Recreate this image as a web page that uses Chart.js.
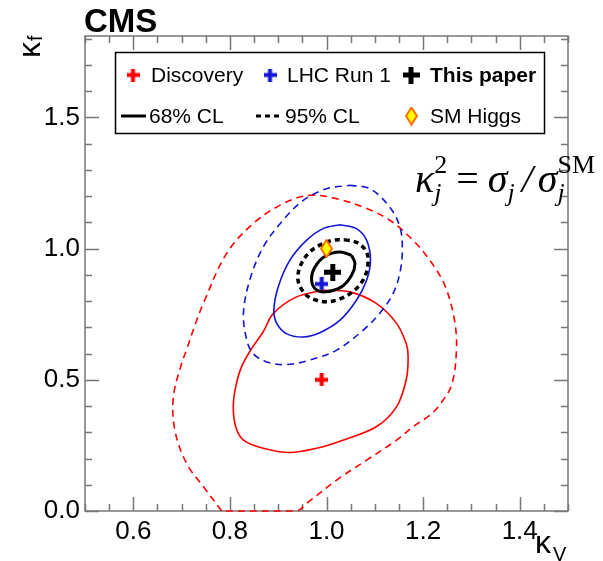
<!DOCTYPE html>
<html>
<head>
<meta charset="utf-8">
<script src="https://cdn.jsdelivr.net/npm/chart.js@4.4.0/dist/chart.umd.min.js"></script>
<style>
  body { margin: 0; background: #fff; }
</style>
</head>
<body>
<canvas id="grafico" width="603" height="561"></canvas>
<script>
// eixos: kappa_V (x) e kappa_f (y)
const xTicks = [0.6, 0.8, 1.0, 1.2, 1.4];
const yTicks = [0.0, 0.5, 1.0, 1.5];

// melhores ajustes
const discovery = [[0.99, 0.50]];
const lhcRun1 = [[0.99, 0.865]];
const thisPaper = [[1.013, 0.91]];
const smHiggs = [[1.0, 1.0]];

// contornos 68% e 95% CL
const discovery68 = [
  [0.993, 0.841], [1.048, 0.835], [1.103, 0.791], [1.145, 0.715], [1.165, 0.638],
  [1.169, 0.587], [1.165, 0.499], [1.145, 0.397], [1.103, 0.321], [1.034, 0.270],
  [0.979, 0.239], [0.924, 0.223], [0.869, 0.239], [0.828, 0.270], [0.812, 0.321],
  [0.807, 0.397], [0.812, 0.473], [0.824, 0.549], [0.845, 0.619], [0.869, 0.683],
  [0.890, 0.753], [0.938, 0.816]
];
const discovery95 = [
  [0.783, 0.0], [0.745, 0.093], [0.710, 0.182], [0.686, 0.308], [0.683, 0.435],
  [0.700, 0.562], [0.710, 0.613], [0.724, 0.689], [0.745, 0.791], [0.793, 0.981],
  [0.848, 1.095], [0.910, 1.171], [0.965, 1.203], [1.021, 1.190], [1.076, 1.158],
  [1.131, 1.108], [1.179, 1.032], [1.214, 0.955], [1.245, 0.860], [1.265, 0.727],
  [1.269, 0.613], [1.259, 0.480], [1.234, 0.404], [1.214, 0.365], [1.179, 0.321],
  [1.145, 0.270], [1.083, 0.194], [1.021, 0.118], [0.959, 0.029], [0.938, 0.0]
];
const run1_68 = [
  [1.028, 1.091], [1.062, 1.076], [1.083, 1.032], [1.091, 0.955], [1.083, 0.879],
  [1.062, 0.803], [1.028, 0.727], [0.986, 0.679], [0.952, 0.663], [0.917, 0.676],
  [0.897, 0.715], [0.891, 0.765], [0.900, 0.854], [0.924, 0.955], [0.959, 1.032],
  [0.993, 1.076]
];
const run1_95 = [
  [1.048, 1.241], [1.090, 1.228], [1.131, 1.158], [1.152, 1.082], [1.157, 1.006],
  [1.153, 0.917], [1.138, 0.829], [1.110, 0.753], [1.076, 0.689], [1.021, 0.613],
  [0.965, 0.575], [0.917, 0.558], [0.876, 0.568], [0.848, 0.600], [0.835, 0.651],
  [0.828, 0.753], [0.841, 0.879], [0.869, 1.006], [0.910, 1.108], [0.952, 1.184],
  [1.000, 1.228]
];
const paper68 = [
  [1.052, 0.974], [1.059, 0.943], [1.052, 0.898], [1.031, 0.854], [0.997, 0.835],
  [0.976, 0.848], [0.969, 0.886], [0.976, 0.930], [0.997, 0.971], [1.028, 0.987]
];
const paper95 = [
  [1.038, 1.034], [1.065, 1.021], [1.083, 0.987], [1.086, 0.943], [1.079, 0.892],
  [1.062, 0.848], [1.034, 0.813], [1.000, 0.797], [0.969, 0.810], [0.952, 0.835],
  [0.941, 0.879], [0.945, 0.930], [0.962, 0.981], [0.986, 1.013], [1.014, 1.032]
];

const legendaLinha1 = ['Discovery', 'LHC Run 1', 'This paper'];
const legendaLinha2 = ['68% CL', '95% CL', 'SM Higgs'];

const VERMELHO = '#ff0000';
const AZUL = '#1414d4';
const FONTE = "'Liberation Sans', Arial, Helvetica, sans-serif";
const SERIFA = "'Liberation Serif', 'Times New Roman', serif";

const pontos = arr => arr.map(p => ({ x: p[0], y: p[1] }));
const fechado = arr => pontos(arr.concat([arr[0]]));

// marcador em cruz cheia
function cruz(cor, tam, esp) {
  const c = document.createElement('canvas');
  c.width = tam; c.height = tam;
  const g = c.getContext('2d');
  g.fillStyle = cor;
  const m = (tam - esp) / 2;
  g.fillRect(m, 0, esp, tam);
  g.fillRect(0, m, tam, esp);
  return c;
}

// losango amarelo com borda laranja
function losango() {
  const c = document.createElement('canvas');
  c.width = 13; c.height = 19;
  const g = c.getContext('2d');
  g.beginPath();
  g.moveTo(6.5, 1); g.lineTo(12, 9.5); g.lineTo(6.5, 18); g.lineTo(1, 9.5);
  g.closePath();
  g.fillStyle = '#ffff00';
  g.fill();
  g.strokeStyle = '#ff6a00';
  g.lineWidth = 2;
  g.stroke();
  return c;
}

const marcaDiscovery = cruz(VERMELHO, 13, 4);
const marcaRun1 = cruz(AZUL, 13, 4);
const marcaPaper = cruz('#000', 17, 5);
const marcaSM = losango();

function contorno(dados, cor, largura, tracejado, ordem) {
  return {
    data: fechado(dados),
    showLine: true,
    borderColor: cor,
    borderWidth: largura,
    borderDash: tracejado,
    pointRadius: 0,
    tension: 0.35,
    fill: false,
    clip: 4,
    order: ordem
  };
}

function marcador(dados, img, ordem) {
  return {
    data: pontos(dados),
    pointStyle: img,
    pointRadius: 8,
    showLine: false,
    clip: false,
    order: ordem
  };
}

// moldura estilo ROOT com ticks para dentro
const moldura = {
  id: 'moldura',
  beforeDatasetsDraw(chart) {
    const { ctx, chartArea: a, scales: { x, y } } = chart;
    ctx.save();
    ctx.strokeStyle = '#777';
    ctx.lineWidth = 1.5;
    ctx.strokeRect(a.left, a.top, a.right - a.left, a.bottom - a.top);
    ctx.beginPath();
    for (let i = 0; i <= 20; i++) {
      const v = 0.5 + i * 0.05;
      const px = Math.round(x.getPixelForValue(v)) + 0.5;
      const len = xTicks.some(t => Math.abs(t - v) < 1e-6) ? 14 : 7;
      ctx.moveTo(px, a.bottom); ctx.lineTo(px, a.bottom - len);
      ctx.moveTo(px, a.top); ctx.lineTo(px, a.top + len);
    }
    for (let i = 0; i <= 18; i++) {
      const v = i * 0.1;
      if (v > y.max) break;
      const py = Math.round(y.getPixelForValue(v)) + 0.5;
      const len = yTicks.some(t => Math.abs(t - v) < 1e-6) ? 14 : 7;
      ctx.moveTo(a.left, py); ctx.lineTo(a.left + len, py);
      ctx.moveTo(a.right, py); ctx.lineTo(a.right - len, py);
    }
    ctx.stroke();
    ctx.restore();
  },
  afterDraw(chart) {
    const { ctx, chartArea: a } = chart;
    ctx.save();
    ctx.fillStyle = '#000';

    // CMS
    ctx.font = 'bold 33px ' + FONTE;
    ctx.textBaseline = 'alphabetic';
    ctx.fillText('CMS', a.left - 1, 32);

    // titulo do eixo x
    ctx.font = '32px ' + FONTE;
    ctx.fillText('\u03ba', 535, 553);
    ctx.font = '20px ' + FONTE;
    ctx.fillText('V', 553, 561);

    // titulo do eixo y (girado)
    ctx.save();
    ctx.translate(40, 58);
    ctx.rotate(-Math.PI / 2);
    ctx.font = '32px ' + FONTE;
    ctx.fillText('\u03ba', 0, 0);
    const kw = ctx.measureText('\u03ba').width;
    ctx.font = '20px ' + FONTE;
    ctx.fillText('f', kw + 1, 2);
    ctx.restore();

    // legenda
    ctx.strokeStyle = '#000';
    ctx.lineWidth = 1.5;
    ctx.strokeRect(115.5, 52.5, 429, 81);
    const l1 = 75, l2 = 116;
    ctx.textBaseline = 'middle';
    ctx.drawImage(marcaDiscovery, 133 - 6.5, l1 - 6.5);
    ctx.drawImage(marcaRun1, 270 - 6.5, l1 - 6.5);
    ctx.drawImage(marcaPaper, 411 - 8.5, l1 - 8.5);
    ctx.font = '21px ' + FONTE;
    ctx.fillText(legendaLinha1[0], 151, l1 + 1);
    ctx.fillText(legendaLinha1[1], 287, l1 + 1);
    ctx.font = 'bold 21px ' + FONTE;
    ctx.fillText(legendaLinha1[2], 430, l1 + 1);

    ctx.beginPath();
    ctx.lineWidth = 3;
    ctx.moveTo(121, l2); ctx.lineTo(146, l2);
    ctx.stroke();
    ctx.beginPath();
    ctx.setLineDash([5, 4]);
    ctx.moveTo(256, l2); ctx.lineTo(283, l2);
    ctx.stroke();
    ctx.setLineDash([]);
    ctx.drawImage(marcaSM, 411.5 - 6.5, l2 - 9.5);
    ctx.font = '21px ' + FONTE;
    ctx.fillText(legendaLinha2[0], 149, l2 + 1);
    ctx.fillText(legendaLinha2[1], 285, l2 + 1);
    ctx.fillText(legendaLinha2[2], 430, l2 + 1);

    // kappa_j^2 = sigma_j / sigma_j^SM
    const S = 40;
    const it = 'italic ' + S + 'px ' + SERIFA;
    const itP = 'italic ' + Math.round(S * 0.65) + 'px ' + SERIFA;
    const rm = S + 'px ' + SERIFA;
    const rmP = Math.round(S * 0.65) + 'px ' + SERIFA;
    const base = 192;
    let px = 415;
    ctx.textBaseline = 'alphabetic';
    const pedaco = (txt, fonte, dy) => {
      ctx.font = fonte;
      ctx.fillText(txt, px, base + dy);
      return ctx.measureText(txt).width;
    };
    px += pedaco('\u03ba', it, 0);
    const w1 = pedaco('2', rmP, -S * 0.48);
    const w2 = pedaco('j', itP, S * 0.22);
    px += Math.max(w1, w2) + 9;
    px += pedaco('=', rm, 0) + 9;
    px += pedaco('\u03c3', it, 0);
    px += pedaco('j', itP, S * 0.22) + 7;
    px += pedaco('/', it, 0) + 5;
    px += pedaco('\u03c3', it, 0);
    pedaco('j', itP, S * 0.22);
    pedaco('SM', rmP, -S * 0.48);
    ctx.restore();
  }
};

Chart.defaults.font.family = FONTE;
Chart.defaults.color = '#000';

new Chart(document.getElementById('grafico'), {
  type: 'scatter',
  data: {
    datasets: [
      marcador(thisPaper, marcaPaper, 0),
      marcador(lhcRun1, marcaRun1, 1),
      marcador(smHiggs, marcaSM, 2),
      marcador(discovery, marcaDiscovery, 3),
      contorno(paper68, '#000', 3, [], 4),
      contorno(paper95, '#000', 3.5, [5, 4], 5),
      contorno(run1_68, AZUL, 1.6, [], 6),
      contorno(run1_95, AZUL, 1.6, [7, 5], 7),
      contorno(discovery68, VERMELHO, 1.6, [], 8),
      contorno(discovery95, VERMELHO, 1.6, [7, 5], 9)
    ]
  },
  options: {
    responsive: false,
    animation: false,
    events: [],
    layout: { padding: { left: 0, right: 35, top: 36, bottom: 0 } },
    plugins: { legend: { display: false }, tooltip: { enabled: false } },
    scales: {
      x: {
        type: 'linear',
        min: 0.5,
        max: 1.5,
        grid: { display: false, drawTicks: false },
        border: { display: false },
        afterBuildTicks: s => { s.ticks = xTicks.map(v => ({ value: v })); },
        afterFit: s => { s.height = 50; },
        ticks: {
          padding: 5,
          maxRotation: 0,
          font: { size: 26 },
          callback: v => v.toFixed(1)
        }
      },
      y: {
        type: 'linear',
        min: 0,
        max: 1.81,
        grid: { display: false, drawTicks: false },
        border: { display: false },
        afterBuildTicks: s => { s.ticks = yTicks.map(v => ({ value: v })); },
        afterFit: s => { s.width = 85; },
        ticks: {
          padding: 5,
          font: { size: 26 },
          callback: v => v.toFixed(1)
        }
      }
    }
  },
  plugins: [moldura]
});
</script>
</body>
</html>
